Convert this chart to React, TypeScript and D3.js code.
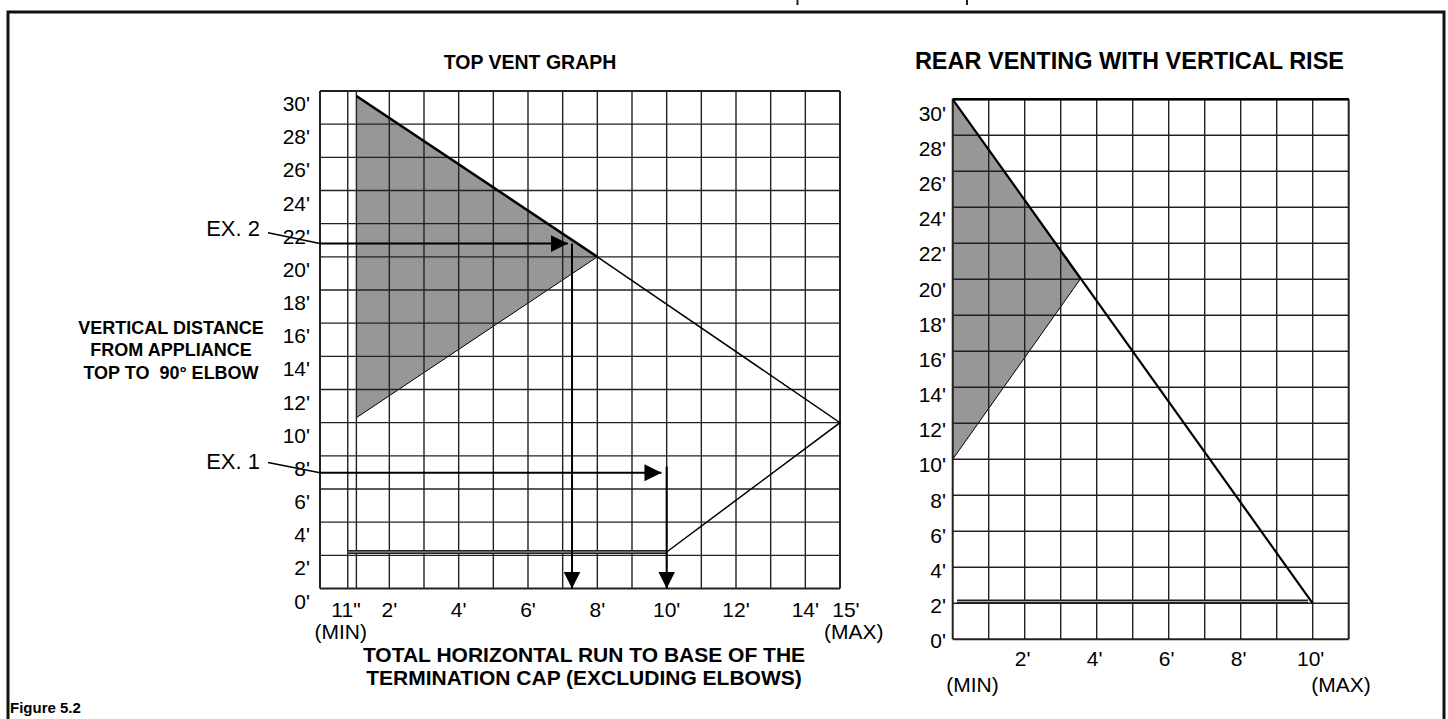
import React, { useEffect, useRef } from 'react'
import * as d3 from 'd3'

const W = 1448
const H = 719
const FONT = '"Liberation Sans", Arial, Helvetica, sans-serif'

// ---- top vent graph (feet) ----
const topYTicks = [0, 2, 4, 6, 8, 10, 12, 14, 16, 18, 20, 22, 24, 26, 28, 30]
const topGridX = [0, 0.8, 1.05, 2, 3, 4, 5, 6, 7, 8, 9, 10, 11, 12, 13, 14, 15]
const topXLabelPos = [0.75, 2, 4, 6, 8, 10, 12, 14, 15.17]
const topXLabels = ['11"', "2'", "4'", "6'", "8'", "10'", "12'", "14'", "15'"]
const topShade: [number, number][] = [[1.05, 29.7], [8, 20], [1.05, 10.3]]
const topUpper: [number, number][] = [[1.05, 29.7], [8, 20]]
const topOutline: [number, number][] = [[8, 20], [15, 10], [10, 2.2]]
const topBase: [number, number][] = [[0.8, 2.2], [10, 2.2]]
const ex2Leader: [number, number][] = [[-1.5, 21.45], [0, 20.8]]
const ex2Run: [number, number][] = [[0, 20.8], [7.15, 20.8]]
const ex2Drop: [number, number][] = [[7.27, 20.8], [7.27, 0]]
const ex1Leader: [number, number][] = [[-1.5, 7.6], [0, 6.98]]
const ex1Run: [number, number][] = [[0, 6.98], [9.85, 6.98]]
const ex1Drop: [number, number][] = [[10, 7.35], [10, 0]]

// ---- rear venting with vertical rise (feet) ----
const rearYTicks = [0, 2, 4, 6, 8, 10, 12, 14, 16, 18, 20, 22, 24, 26, 28, 30]
const rearGridX = [0, 1, 2, 3, 4, 5, 6, 7, 8, 9, 10, 11]
const rearXTicks = [2, 4, 6, 8, 10]
const rearShade: [number, number][] = [[0, 30], [3.54, 20], [0, 10]]
const rearDiag: [number, number][] = [[0, 30], [10, 2]]
const rearBase: [number, number][] = [[0.12, 2.1], [9.87, 2.1]]

export default function App() {
  const svgRef = useRef<SVGSVGElement>(null)

  useEffect(() => {
    const svg = d3.select(svgRef.current)
    svg.selectAll('*').remove()

    // arrow head
    svg.append('defs').append('marker')
      .attr('id', 'arr')
      .attr('viewBox', '0 0 10 10')
      .attr('refX', 10).attr('refY', 5)
      .attr('markerUnits', 'userSpaceOnUse')
      .attr('markerWidth', 17).attr('markerHeight', 17)
      .attr('orient', 'auto')
      .append('path').attr('d', 'M0,0L10,5L0,10Z').attr('fill', '#000')

    // page frame
    svg.append('rect')
      .attr('x', 8).attr('y', 12).attr('width', 1436).attr('height', 760)
      .attr('fill', 'none').attr('stroke', '#111').attr('stroke-width', 3)
    svg.append('line').attr('x1', 797.5).attr('x2', 797.5).attr('y1', 0).attr('y2', 5).attr('stroke', '#222').attr('stroke-width', 2)
    svg.append('line').attr('x1', 967).attr('x2', 967).attr('y1', 0).attr('y2', 5).attr('stroke', '#222').attr('stroke-width', 2)

    const text = (x: number, y: number, s: string, size: number, anchor = 'middle', weight = 'normal') =>
      svg.append('text')
        .attr('x', x).attr('y', y)
        .attr('text-anchor', anchor)
        .attr('font-family', FONT)
        .attr('font-size', size)
        .attr('font-weight', weight)
        .style('white-space', 'pre')
        .attr('fill', '#000')
        .text(s)

    const drawLine = (pts: [number, number][], x: any, y: any, w: number, extra?: (p: any) => void) => {
      const p = svg.append('path')
        .datum(pts)
        .attr('fill', 'none')
        .attr('stroke', '#000')
        .attr('stroke-width', w)
        .attr('d', d3.line<[number, number]>().x(d => x(d[0])).y(d => y(d[1])))
      if (extra) extra(p)
      return p
    }

    const grid = (x: any, y: any, xs: number[], ys: number[], xMax: number) => {
      const g = svg.append('g').attr('stroke', '#222').attr('stroke-width', 1.4)
      g.selectAll('line.v').data(xs).join('line')
        .attr('class', 'v')
        .attr('x1', d => x(d)).attr('x2', d => x(d))
        .attr('y1', y(0)).attr('y2', y(30))
        .attr('stroke-width', d => (d === xs[0] || d === xs[xs.length - 1] ? 2 : 1.4))
      g.selectAll('line.h').data(ys).join('line')
        .attr('class', 'h')
        .attr('x1', x(0)).attr('x2', x(xMax))
        .attr('y1', d => y(d)).attr('y2', d => y(d))
        .attr('stroke-width', d => (d === 0 || d === 30 ? 2 : 1.4))
    }

    // ================= TOP VENT GRAPH =================
    const tx = d3.scaleLinear().domain([0, 15]).range([320, 840])
    const ty = d3.scaleLinear().domain([0, 30]).range([588.5, 91])

    svg.append('path')
      .datum(topShade)
      .attr('fill', '#979797')
      .attr('d', d3.line<[number, number]>().x(d => tx(d[0])).y(d => ty(d[1])).curve(d3.curveLinearClosed))
    svg.append('path')
      .datum(topShade)
      .attr('fill', 'none').attr('stroke', '#000').attr('stroke-width', 1)
      .attr('d', d3.line<[number, number]>().x(d => tx(d[0])).y(d => ty(d[1])))

    grid(tx, ty, topGridX, topYTicks, 15)

    drawLine(topUpper, tx, ty, 2.6)
    drawLine(topOutline, tx, ty, 1.5)
    drawLine(topBase, tx, ty, 4).attr('stroke', '#222')
    drawLine(topBase, tx, ty, 1).attr('stroke', '#aaa')

    // examples
    drawLine(ex2Leader, tx, ty, 1.5)
    drawLine(ex2Run, tx, ty, 2, p => p.attr('marker-end', 'url(#arr)'))
    drawLine(ex2Drop, tx, ty, 2, p => p.attr('marker-end', 'url(#arr)'))
    drawLine(ex1Leader, tx, ty, 1.5)
    drawLine(ex1Run, tx, ty, 2, p => p.attr('marker-end', 'url(#arr)'))
    drawLine(ex1Drop, tx, ty, 2, p => p.attr('marker-end', 'url(#arr)'))
    text(tx(ex2Leader[0][0]) - 8, ty(ex2Leader[0][1]) + 3, 'EX. 2', 22, 'end')
    text(tx(ex1Leader[0][0]) - 8, ty(ex1Leader[0][1]) + 7, 'EX. 1', 22, 'end')

    // y tick labels
    topYTicks.forEach(v => text(310, ty(v) + 20, `${v}'`, 21, 'end'))
    // x tick labels
    topXLabelPos.forEach((v, i) => text(tx(v), 617, topXLabels[i], 21))
    text(tx(0.6), 639, '(MIN)', 21)
    text(tx(15.4), 639, '(MAX)', 21)

    text(530, 69, 'TOP VENT GRAPH', 19.5, 'middle', 'bold')
    text(584, 662, 'TOTAL HORIZONTAL RUN TO BASE OF THE', 21, 'middle', 'bold')
    text(584, 685, 'TERMINATION CAP (EXCLUDING ELBOWS)', 21, 'middle', 'bold')
    text(171, 333.5, 'VERTICAL DISTANCE', 18, 'middle', 'bold')
    text(171, 356, 'FROM APPLIANCE', 18, 'middle', 'bold')
    text(171, 378.5, 'TOP TO  90° ELBOW', 18, 'middle', 'bold')

    // ================= REAR VENTING =================
    const rx = d3.scaleLinear().domain([0, 11]).range([952.7, 1348.7])
    const ry = d3.scaleLinear().domain([0, 30]).range([639.3, 99.3])
    const ryLabel = d3.scaleLinear().domain([0, 30]).range([640.8, 113.3])

    svg.append('path')
      .datum(rearShade)
      .attr('fill', '#979797')
      .attr('stroke', '#000').attr('stroke-width', 1)
      .attr('d', d3.line<[number, number]>().x(d => rx(d[0])).y(d => ry(d[1])).curve(d3.curveLinearClosed))

    grid(rx, ry, rearGridX, rearYTicks, 11)
    svg.append('line')
      .attr('x1', rx(0)).attr('x2', rx(11)).attr('y1', ry(30)).attr('y2', ry(30))
      .attr('stroke', '#000').attr('stroke-width', 2.6)

    drawLine(rearDiag, rx, ry, 2.2)
    drawLine(rearBase, rx, ry, 4).attr('stroke', '#222')
    drawLine(rearBase, rx, ry, 1).attr('stroke', '#aaa')

    rearYTicks.forEach(v => text(946, ryLabel(v) + 7.5, `${v}'`, 21, 'end'))
    rearXTicks.forEach(v => text(rx(v) - 2, 666, `${v}'`, 21))
    text(972.5, 692, '(MIN)', 21)
    text(1341, 692, '(MAX)', 21)

    text(1344, 69, 'REAR VENTING WITH VERTICAL RISE', 23.5, 'end', 'bold')

    text(10, 713, 'Figure 5.2', 15, 'start', 'bold')
  }, [])

  return (
    <svg
      ref={svgRef}
      width={W}
      height={H}
      style={{ position: 'absolute', left: 0, top: 0, background: '#fff', display: 'block' }}
    />
  )
}
